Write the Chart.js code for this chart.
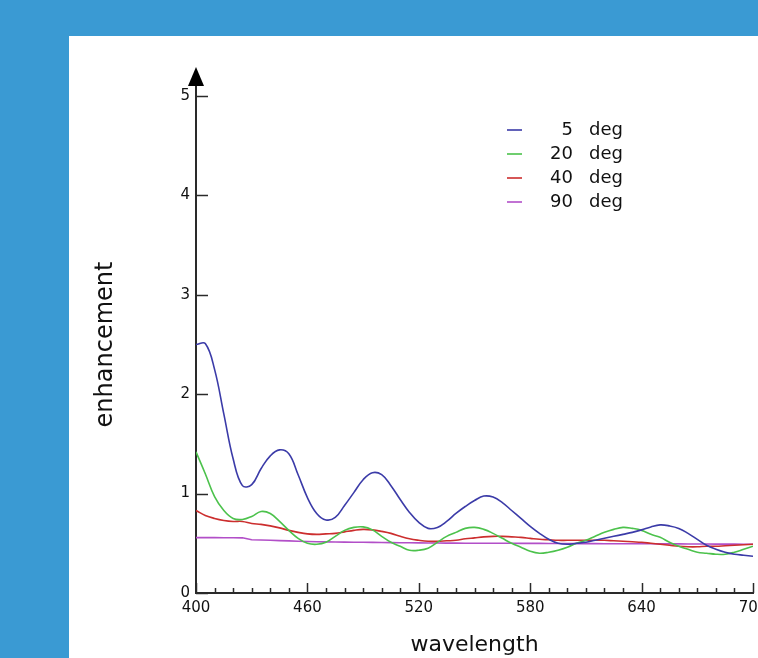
<!DOCTYPE html>
<html>
<head>
<meta charset="utf-8">
<title>enhancement vs wavelength</title>
<script src="https://cdn.jsdelivr.net/npm/chart.js@4.4.0/dist/chart.umd.min.js"></script>
<style>
  html, body { margin: 0; padding: 0; background: #3a9ad3; }
  #panel { position: absolute; left: 69px; top: 36px; width: 689px; height: 622px; background: #fff; }
</style>
</head>
<body>
<div id="panel"><canvas id="enhChart"></canvas></div>
<script>
// wavelength samples (nm)
const wavelengths = [400, 405, 410, 415, 420, 425, 430, 435, 440, 445, 450, 455, 460, 465, 470, 475, 480, 485, 490, 495,
  500, 505, 510, 515, 520, 525, 530, 535, 540, 545, 550, 555, 560, 565, 570, 575, 580, 585, 590, 595,
  600, 605, 610, 615, 620, 625, 630, 635, 640, 645, 650, 655, 660, 665, 670, 675, 680, 685, 690, 695, 700];

const angles = [5, 20, 40, 90];
const lineColors = ['#3b3ba8', '#4cc24c', '#cc2e2e', '#b24fc8'];

// enhancement per angle
const deg5 = [2.50, 2.51, 2.25, 1.80, 1.35, 1.08, 1.09, 1.25, 1.38, 1.44, 1.40, 1.19, 0.96, 0.80, 0.735, 0.76, 0.88, 1.01, 1.14, 1.21,
  1.19, 1.08, 0.94, 0.81, 0.71, 0.65, 0.66, 0.72, 0.80, 0.87, 0.93, 0.975, 0.965, 0.91, 0.83, 0.75, 0.67, 0.60, 0.54, 0.50,
  0.49, 0.50, 0.51, 0.53, 0.55, 0.57, 0.59, 0.61, 0.635, 0.665, 0.685, 0.675, 0.65, 0.60, 0.54, 0.48, 0.44, 0.41, 0.39, 0.38, 0.37];
const deg20 = [1.42, 1.20, 0.97, 0.83, 0.75, 0.74, 0.77, 0.82, 0.80, 0.72, 0.63, 0.55, 0.50, 0.49, 0.51, 0.57, 0.63, 0.66, 0.665, 0.635,
  0.57, 0.51, 0.47, 0.43, 0.43, 0.45, 0.51, 0.57, 0.61, 0.65, 0.66, 0.64, 0.60, 0.55, 0.50, 0.46, 0.42, 0.40, 0.41, 0.43,
  0.46, 0.50, 0.53, 0.57, 0.61, 0.64, 0.66, 0.65, 0.63, 0.59, 0.56, 0.51, 0.47, 0.44, 0.41, 0.40, 0.39, 0.39, 0.41, 0.44, 0.47];
const deg40 = [0.83, 0.78, 0.75, 0.73, 0.72, 0.72, 0.70, 0.69, 0.675, 0.655, 0.63, 0.61, 0.595, 0.59, 0.595, 0.60, 0.615, 0.63, 0.64, 0.635,
  0.62, 0.60, 0.57, 0.545, 0.53, 0.52, 0.52, 0.525, 0.53, 0.545, 0.555, 0.565, 0.57, 0.57, 0.565, 0.56, 0.55, 0.54, 0.535, 0.53,
  0.53, 0.53, 0.53, 0.53, 0.53, 0.525, 0.52, 0.515, 0.51, 0.50, 0.49, 0.48, 0.47, 0.465, 0.465, 0.47, 0.47, 0.475, 0.48, 0.485, 0.49];
const deg90 = [0.557, 0.557, 0.557, 0.556, 0.556, 0.555, 0.535, 0.533, 0.530, 0.527, 0.524, 0.521, 0.518, 0.516, 0.514, 0.513, 0.512, 0.511, 0.510, 0.509,
  0.508, 0.507, 0.506, 0.505, 0.504, 0.503, 0.503, 0.502, 0.502, 0.501, 0.501, 0.500, 0.500, 0.500, 0.500, 0.499, 0.499, 0.499, 0.498, 0.498,
  0.498, 0.497, 0.497, 0.497, 0.496, 0.496, 0.496, 0.495, 0.495, 0.495, 0.494, 0.494, 0.494, 0.493, 0.493, 0.493, 0.492, 0.492, 0.492, 0.491, 0.491];

const seriesValues = [deg5, deg20, deg40, deg90];

const axisColor = '#2a2a2a';
const fontFamily = '"DejaVu Sans", sans-serif';

const datasets = seriesValues.map((vals, i) => ({
  label: angles[i] + ' deg',
  data: vals.map((v, k) => ({ x: wavelengths[k], y: v })),
  borderColor: lineColors[i],
  backgroundColor: lineColors[i],
  borderWidth: 1.6,
  pointRadius: 0,
  tension: i === 3 ? 0 : 0.4,
  fill: false
}));

// arrow on the y axis, inward tick marks, and the little legend
const axisDecor = {
  id: 'axisDecor',
  afterDraw(chart) {
    const ctx = chart.ctx;
    const area = chart.chartArea;
    const xs = chart.scales.x;
    const ys = chart.scales.y;
    const x0 = xs.getPixelForValue(400);
    const y0 = ys.getPixelForValue(0);
    ctx.save();
    ctx.strokeStyle = axisColor;
    ctx.fillStyle = '#000';
    ctx.lineWidth = 2;

    // y axis carries on above 5 up to the arrow head
    ctx.beginPath();
    ctx.moveTo(x0, area.top);
    ctx.lineTo(x0, area.top - 10);
    ctx.stroke();
    ctx.beginPath();
    ctx.moveTo(x0, area.top - 29);
    ctx.lineTo(x0 - 8, area.top - 10);
    ctx.lineTo(x0 + 8, area.top - 10);
    ctx.closePath();
    ctx.fill();

    // y ticks point into the plot
    ctx.lineWidth = 1.5;
    ys.ticks.forEach(t => {
      const py = Math.round(ys.getPixelForValue(t.value)) + 0.5;
      ctx.beginPath();
      ctx.moveTo(x0, py);
      ctx.lineTo(x0 + 12, py);
      ctx.stroke();
    });

    // x ticks: minor every 10 nm, major on labelled values
    for (let v = 400; v <= 700; v += 10) {
      const px = Math.round(xs.getPixelForValue(v)) + 0.5;
      const len = (v - 400) % 60 === 0 ? 10 : 5;
      ctx.beginPath();
      ctx.moveTo(px, y0);
      ctx.lineTo(px, y0 - len);
      ctx.stroke();
    }

    // legend
    ctx.font = '18px ' + fontFamily;
    ctx.textBaseline = 'middle';
    const lx = 438;
    angles.forEach((a, i) => {
      const ly = 94 + i * 24;
      ctx.strokeStyle = lineColors[i];
      ctx.lineWidth = 1.6;
      ctx.beginPath();
      ctx.moveTo(lx, ly);
      ctx.lineTo(lx + 15, ly);
      ctx.stroke();
      ctx.fillStyle = '#111';
      ctx.textAlign = 'right';
      ctx.fillText(String(a), lx + 66, ly);
      ctx.textAlign = 'left';
      ctx.fillText('deg', lx + 82, ly);
    });
    ctx.restore();
  }
};

const ctx = document.getElementById('enhChart').getContext('2d');
const enhChart = new Chart(ctx, {
  type: 'line',
  data: { datasets: datasets },
  options: {
    responsive: true,
    maintainAspectRatio: false,
    animation: false,
    layout: { padding: { top: 60, right: 5, left: 0, bottom: 0 } },
    plugins: {
      legend: { display: false },
      tooltip: { enabled: false }
    },
    scales: {
      x: {
        type: 'linear',
        min: 400,
        max: 700,
        grid: { display: false, drawTicks: false },
        border: { display: true, color: axisColor, width: 2 },
        ticks: {
          stepSize: 60,
          padding: 6,
          maxRotation: 0,
          color: '#111',
          font: { family: fontFamily, size: 15 }
        },
        title: {
          display: true,
          text: 'wavelength',
          color: '#111',
          padding: { top: 0, bottom: 0 },
          font: { family: fontFamily, size: 22 }
        },
        afterFit(scale) {
          scale.height = 65;
          scale.paddingLeft = 0;
          scale.paddingRight = 0;
        }
      },
      y: {
        min: 0,
        max: 5,
        grid: { display: false, drawTicks: false },
        border: { display: true, color: axisColor, width: 2 },
        ticks: {
          stepSize: 1,
          padding: 6,
          color: '#111',
          font: { family: fontFamily, size: 15 }
        },
        title: {
          display: true,
          text: 'enhancement',
          color: '#111',
          padding: { top: 22, bottom: 0 },
          font: { family: fontFamily, size: 24 }
        },
        afterFit(scale) {
          scale.width = 127;
        }
      }
    }
  },
  plugins: [axisDecor]
});
</script>
</body>
</html>
